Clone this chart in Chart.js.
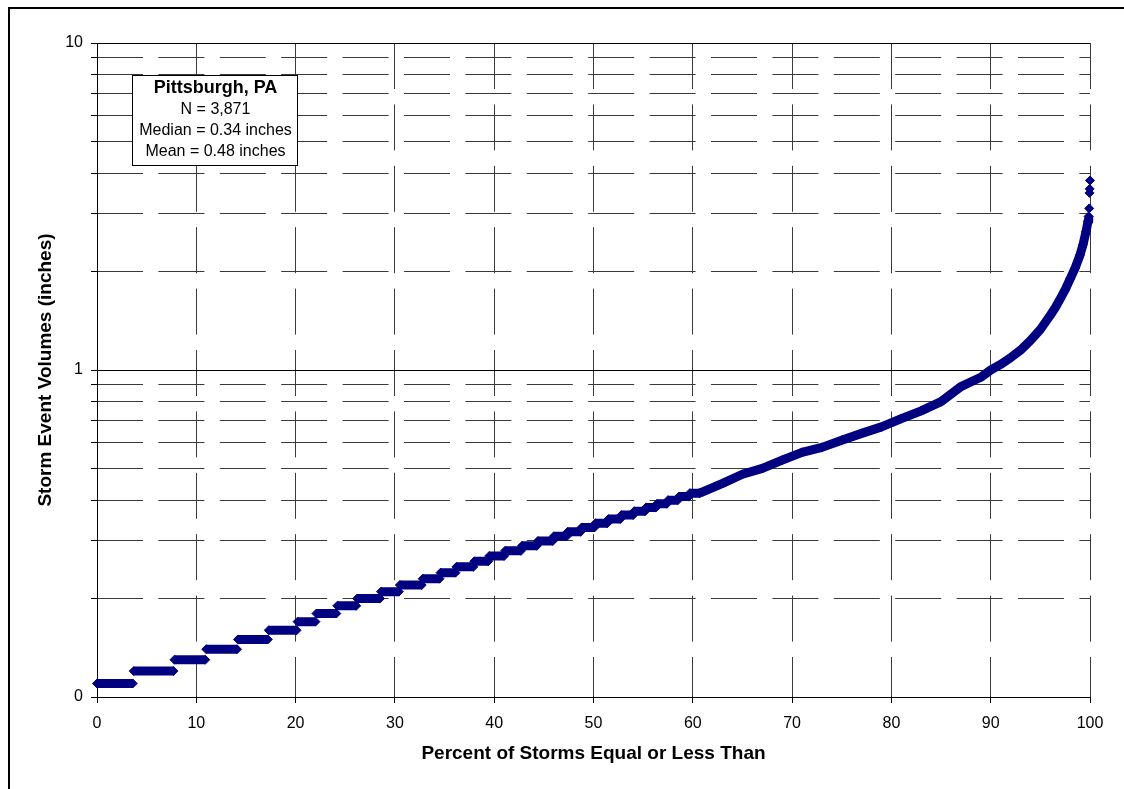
<!DOCTYPE html>
<html><head><meta charset="utf-8">
<script src="https://cdn.jsdelivr.net/npm/chart.js@4.4.1/dist/chart.umd.min.js"></script>
<style>
html,body{margin:0;padding:0;background:#fff;}
#wrap{position:relative;width:1124px;height:789px;overflow:hidden;background:#fff;}
#frame{position:absolute;left:8px;top:7px;width:1200px;height:900px;border-top:2px solid #000;border-left:2px solid #000;}
canvas{position:absolute;left:0;top:0;}
</style></head><body>
<div id="wrap"><div id="frame"></div><canvas id="c" width="1124" height="789"></canvas></div>
<script>
// ---- data ----
// storm depth steps (inches) and the percent range each step covers
const stepValues = [0.11,0.12,0.13,0.14,0.15,0.16,0.17,0.18,0.19,0.20,0.21,0.22,0.23,0.24,0.25,0.26,0.27,0.28,0.29,0.30,0.31,0.32,0.33,0.34,0.35,0.36,0.37,0.38,0.39,0.40,0.41,0.42];
const stepStart  = [0.0,3.7,7.8,11.0,14.2,17.3,20.2,22.1,24.2,26.2,28.6,30.5,32.8,34.6,36.2,38.0,39.5,41.1,42.8,44.4,46.0,47.4,48.8,50.2,51.5,52.8,54.1,55.3,56.4,57.5,58.6,59.7];
const stepEnd    = [3.6,7.7,10.9,14.1,17.2,20.1,22.0,24.1,26.1,28.5,30.4,32.7,34.5,36.1,37.9,39.4,41.0,42.7,44.3,45.9,47.3,48.7,50.1,51.4,52.7,54.0,55.2,56.3,57.4,58.5,59.6,60.7];
// upper part of the curve (nearly continuous)
const tailPct = [60.7,63,65,67,69,71,73,75,77,79,81,83,85,87,89,90,91,92,93,94,95,96,96.5,97,97.5,98,98.5,99,99.3,99.6,99.8,99.87];
const tailVal = [0.42,0.45,0.48,0.50,0.53,0.56,0.58,0.61,0.64,0.67,0.71,0.75,0.80,0.89,0.95,1.00,1.04,1.09,1.15,1.23,1.33,1.47,1.55,1.65,1.76,1.90,2.05,2.25,2.42,2.65,2.85,2.95];
// largest individual storms
const topPct = [99.92,99.95,99.97,100];
const topVal = [3.12,3.48,3.58,3.80];
// axes
const xTicks = [0,10,20,30,40,50,60,70,80,90,100];
const yMajorTicks = [0.1,1,10];
const yMajorLabels = ['0','1','10'];
const yMinorTicks = [0.2,0.3,0.4,0.5,0.6,0.7,0.8,0.9,2,3,4,5,6,7,8,9];
const boxLines = ['Pittsburgh, PA','N = 3,871','Median = 0.34 inches','Mean = 0.48 inches'];
const xTitle = 'Percent of Storms Equal or Less Than';
const yTitle = 'Storm Event Volumes (inches)';

// ---- build chart ----
const FONT = "'Liberation Sans', Arial, Helvetica, sans-serif";
const NAVY = '#000080';
const GRID = '#3a3a3a';
const DASH = [46,15.4];

const stepData = [];
stepValues.forEach((v,i) => {
  stepData.push({x: stepStart[i], y: v});
  stepData.push({x: stepEnd[i], y: v});
  stepData.push({x: stepEnd[i], y: null});
});
const tailData = tailPct.map((p,i) => ({x: p, y: tailVal[i]}));
const topData = topPct.map((p,i) => ({x: p, y: topVal[i]}));
const yAllTicks = yMajorTicks.concat(yMinorTicks).sort((a,b)=>a-b);
const isMajorY = v => yMajorTicks.some(t => Math.abs(t - v) < 1e-9);

const markerDs = (label, data, line) => ({
  label, data, showLine: line, spanGaps: false,
  borderColor: NAVY, backgroundColor: NAVY, borderWidth: 9,
  borderJoinStyle: 'round',
  pointStyle: 'rectRot', pointRadius: 4.5, pointBorderWidth: 1,
  pointBackgroundColor: NAVY, pointBorderColor: NAVY,
  pointHoverRadius: 4.5, clip: false
});

const boxPlugin = {
  id: 'statbox',
  afterDraw(chart) {
    const ctx = chart.ctx;
    const x = 132, y = 75, w = 165, h = 90;
    ctx.save();
    ctx.fillStyle = '#fff';
    ctx.fillRect(x, y, w, h);
    ctx.strokeStyle = '#000';
    ctx.lineWidth = 1;
    ctx.strokeRect(x + 0.5, y + 0.5, w, h);
    ctx.fillStyle = '#000';
    ctx.textAlign = 'center';
    ctx.textBaseline = 'middle';
    const cx = x + w / 2 + 1;
    const ys = [88, 110, 131, 152];
    boxLines.forEach((t, i) => {
      ctx.font = (i === 0 ? 'bold 18px ' : '16px ') + FONT;
      ctx.fillText(t, cx, ys[i]);
    });
    ctx.restore();
  }
};

new Chart(document.getElementById('c'), {
  type: 'scatter',
  data: {
    datasets: [
      markerDs('steps', stepData, true),
      markerDs('tail', tailData, true),
      markerDs('top', topData, false)
    ]
  },
  options: {
    responsive: false,
    animation: false,
    devicePixelRatio: 1,
    layout: { padding: { top: 43, right: 34, left: 0, bottom: 0 } },
    plugins: { legend: { display: false }, tooltip: { enabled: false } },
    scales: {
      x: {
        type: 'linear', position: 'bottom', min: 0, max: 100,
        afterBuildTicks: s => { s.ticks = xTicks.map(v => ({value: v})); },
        afterFit: s => { s.height = 92; },
        grid: {
          color: c => (c.tick && c.tick.value === 0) ? 'rgba(0,0,0,0)' : GRID,
          lineWidth: 1, drawTicks: true, tickLength: 6, tickColor: '#000', tickWidth: 1
        },
        border: { display: true, color: '#000', width: 1, dash: DASH },
        ticks: { font: { family: FONT, size: 16 }, color: '#000', padding: 11, maxRotation: 0, autoSkip: false,
          callback: v => String(v) },
        title: { display: true, text: xTitle, color: '#000',
          font: { family: FONT, size: 19, weight: 'bold' }, padding: { top: 0, bottom: 24 } }
      },
      y: {
        type: 'logarithmic', position: 'left', min: 0.1, max: 10,
        afterBuildTicks: s => { s.ticks = yAllTicks.map(v => ({value: v})); },
        afterFit: s => { s.width = 97; },
        grid: {
          color: c => (c.tick && isMajorY(c.tick.value)) ? '#000' : 'rgba(0,0,0,0)',
          lineWidth: 1, drawTicks: true, tickLength: 6, tickColor: '#000', tickWidth: 1
        },
        border: { display: true, color: '#000', width: 1 },
        ticks: { font: { family: FONT, size: 16 }, color: '#000', padding: 8, autoSkip: false,
          callback: v => { const i = yMajorTicks.findIndex(t => Math.abs(t - v) < 1e-9); return i >= 0 ? yMajorLabels[i] : ''; } },
        title: { display: true, text: yTitle, color: '#000',
          font: { family: FONT, size: 19, weight: 'bold' }, padding: { top: 34, bottom: 0 } }
      },
      y2: {
        type: 'logarithmic', position: 'left', min: 0.1, max: 10,
        afterBuildTicks: s => { s.ticks = yMinorTicks.map(v => ({value: v})); },
        afterFit: s => { s.width = 0; },
        grid: { color: GRID, lineWidth: 1, drawTicks: false },
        border: { display: false, dash: DASH },
        ticks: { display: false },
        title: { display: false }
      }
    }
  },
  plugins: [boxPlugin]
});
</script>
</body></html>
